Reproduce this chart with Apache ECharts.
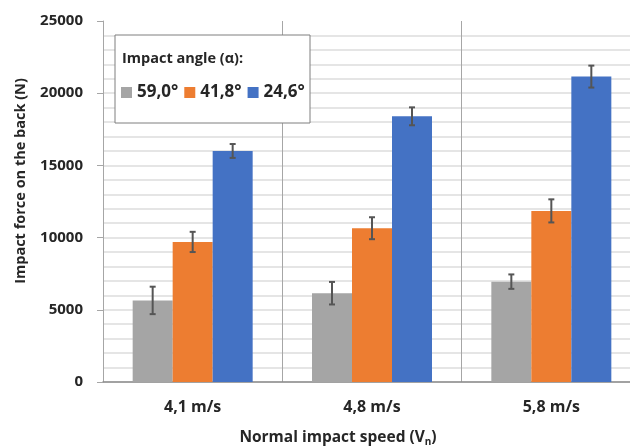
<!DOCTYPE html>
<html>
<head>
<meta charset="utf-8">
<script src="https://cdn.jsdelivr.net/npm/echarts@6/dist/echarts.min.js"></script>
<style>
  html, body { margin: 0; padding: 0; background: #fff; }
  #chart { width: 630px; height: 448px; }
</style>
</head>
<body>
<div id="chart"></div>
<script>
  // data
  var speeds = ['4,1 m/s', '4,8 m/s', '5,8 m/s'];
  var angles = ['59,0°', '41,8°', '24,6°'];
  var force59 = [5650, 6150, 6950];
  var force41 = [9700, 10650, 11850];
  var force24 = [16000, 18400, 21150];
  var err59 = [950, 780, 500];
  var err41 = [700, 760, 800];
  var err24 = [480, 620, 760];
  var colors = ['#a5a5a5', '#ed7d31', '#4472c4'];

  var values = [force59, force41, force24];
  var errors = [err59, err41, err24];
  var font = '"Open Sans", "Noto Sans", sans-serif';

  var chart = echarts.init(document.getElementById('chart'));

  // minor grid every 1000, no line at the top
  var gridColors = [];
  for (var i = 0; i < 25; i++) gridColors.push('#dcdcdc');
  gridColors.push('rgba(0,0,0,0)');

  var series = [];
  values.forEach(function (v, s) {
    series.push({
      name: angles[s],
      type: 'bar',
      data: v,
      barWidth: 40,
      barGap: '0%',
      itemStyle: { color: colors[s] },
      z: 2
    });
  });
  values.forEach(function (v, s) {
    series.push({
      type: 'custom',
      data: v.map(function (val, k) { return [k, val, errors[s][k]]; }),
      z: 5,
      renderItem: function (params, api) {
        var k = api.value(0), val = api.value(1), e = api.value(2);
        var off = (s - 1) * 40;
        var top = api.coord([k, val + e]);
        var bot = api.coord([k, val - e]);
        var x = top[0] + off;
        var st = { stroke: '#555', lineWidth: 2 };
        return {
          type: 'group',
          children: [
            { type: 'line', shape: { x1: x, y1: top[1], x2: x, y2: bot[1] }, style: st },
            { type: 'line', shape: { x1: x - 3, y1: top[1], x2: x + 3, y2: top[1] }, style: st },
            { type: 'line', shape: { x1: x - 3, y1: bot[1], x2: x + 3, y2: bot[1] }, style: st }
          ]
        };
      }
    });
  });

  chart.setOption({
    animation: false,
    backgroundColor: '#fff',
    grid: { left: 103, top: 21, right: -11, bottom: 66, outerBoundsMode: 'none', containLabel: false },
    legend: {
      data: angles,
      left: 121,
      top: 84,
      padding: 0,
      itemWidth: 11,
      itemHeight: 11,
      itemGap: 6,
      icon: 'rect',
      z: 30,
      textStyle: { fontFamily: font, fontSize: 17, fontWeight: 'bold', color: '#262626' }
    },
    xAxis: {
      type: 'category',
      data: speeds,
      axisLine: { lineStyle: { color: '#8c8c8c', width: 1.5 } },
      axisTick: { show: false },
      splitLine: { show: true, lineStyle: { color: '#a6a6a6', width: 1 } },
      axisLabel: { fontFamily: font, fontSize: 16, fontWeight: 'bold', color: '#262626', margin: 17 }
    },
    yAxis: [
      {
        type: 'value', min: 0, max: 25000, interval: 1000,
        axisLine: { show: false }, axisTick: { show: false }, axisLabel: { show: false },
        splitLine: { lineStyle: { color: gridColors, width: 1.5 } }
      },
      {
        type: 'value', min: 0, max: 25000, interval: 5000, position: 'left',
        axisLine: { show: true, lineStyle: { color: '#a6a6a6', width: 1 } },
        axisTick: { show: true, length: 6, lineStyle: { color: '#a6a6a6' } },
        splitLine: { show: false },
        axisLabel: {
          fontFamily: font, fontSize: 15, fontWeight: 'bold', color: '#262626', margin: 20,
          formatter: function (v) { return String(v); }
        }
      }
    ],
    graphic: [
      {
        type: 'rect', z: 20,
        shape: { x: 115, y: 35, width: 195, height: 88 },
        style: { fill: '#fff', stroke: '#7f7f7f', lineWidth: 1 }
      },
      {
        type: 'text', z: 21, left: 122, top: 51,
        style: { text: 'Impact angle (α):', fontFamily: font, fontSize: 14.5, fontWeight: 'bold', fill: '#262626' }
      },
      {
        type: 'text', z: 21, x: 21, y: 181, rotation: Math.PI / 2,
        style: {
          text: 'Impact force on the back (N)', align: 'center', verticalAlign: 'middle',
          fontFamily: font, fontSize: 14.5, fontWeight: 'bold', fill: '#262626'
        }
      },
      {
        type: 'text', z: 21, x: 338, y: 438,
        style: {
          text: 'Normal impact speed (V{sub|n})', align: 'center', verticalAlign: 'middle',
          fontFamily: font, fontSize: 15.5, fontWeight: 'bold', fill: '#262626',
          rich: { sub: { fontFamily: font, fontSize: 10, fontWeight: 'bold', fill: '#262626', padding: [8, 0, 0, 0] } }
        }
      }
    ],
    series: series
  });
</script>
</body>
</html>
